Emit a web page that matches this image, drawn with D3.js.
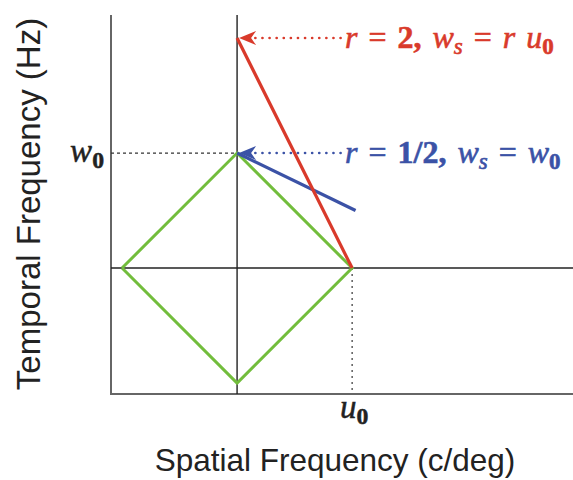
<!DOCTYPE html>
<html>
<head>
<meta charset="utf-8">
<script src="https://cdn.jsdelivr.net/npm/d3@7"></script>
<style>
  body { margin: 0; background: #fff; }
  svg { display: block; }
</style>
</head>
<body>
<svg id="chart" width="573" height="480"></svg>
<script>
// data, in units of u0 (x) and w0 (y)
var diamondU = [-1, 0, 1, 0, -1];
var diamondW = [0, 1, 0, -1, 0];
var redU = [1, 0];
var redW = [0, 2];
var blueU = [0, 1.03];
var blueW = [1, 0.5];
var arrowY = [2, 1];          // red, blue annotation rows
var arrowStartU = [0.9, 0.9];

var width = 573, height = 480;
var x = d3.scaleLinear().domain([-1.096, 2.92]).range([111, 573]);
var y = d3.scaleLinear().domain([-1.095, 2.2]).range([394, 15]);

var svg = d3.select('#chart');
var red = '#d93a2b', blue = '#3b52a6', green = '#72bd3c';

// frame (left and bottom axes)
svg.append('line').attr('x1', x(-1.096)).attr('x2', x(-1.096)).attr('y1', y(2.2)).attr('y2', y(-1.095))
  .attr('stroke', '#666').attr('stroke-width', 2);
svg.append('line').attr('x1', x(-1.096) - 1).attr('x2', x(2.92)).attr('y1', y(-1.095)).attr('y2', y(-1.095))
  .attr('stroke', '#666').attr('stroke-width', 2);

// zero lines
svg.append('line').attr('x1', x(0)).attr('x2', x(0)).attr('y1', y(2.2)).attr('y2', y(-1.095))
  .attr('stroke', '#222').attr('stroke-width', 1.4);
svg.append('line').attr('x1', x(-1.096)).attr('x2', x(2.92)).attr('y1', y(0)).attr('y2', y(0))
  .attr('stroke', '#222').attr('stroke-width', 1.4);

// reference dashed lines
svg.append('line').attr('x1', x(-1.096)).attr('x2', x(0)).attr('y1', y(1)).attr('y2', y(1))
  .attr('stroke', '#333').attr('stroke-width', 1.2).attr('stroke-dasharray', '3,3');
svg.append('line').attr('x1', x(1)).attr('x2', x(1)).attr('y1', y(0)).attr('y2', y(-1.095))
  .attr('stroke', '#333').attr('stroke-width', 1.2).attr('stroke-dasharray', '2,4');

var line = d3.line().x(function(d) { return x(d[0]); }).y(function(d) { return y(d[1]); });

svg.append('path').datum(d3.zip(diamondU, diamondW)).attr('d', line)
  .attr('fill', 'none').attr('stroke', green).attr('stroke-width', 3);
svg.append('path').datum(d3.zip(blueU, blueW)).attr('d', line)
  .attr('fill', 'none').attr('stroke', blue).attr('stroke-width', 3.2);
svg.append('path').datum(d3.zip(redU, redW)).attr('d', line)
  .attr('fill', 'none').attr('stroke', red).attr('stroke-width', 3.2);

// annotation arrows
[red, blue].forEach(function(c, i) {
  var yy = y(arrowY[i]), x0 = x(0) + 2;
  svg.append('line').attr('x1', x(arrowStartU[i])).attr('x2', x0 + 16).attr('y1', yy).attr('y2', yy)
    .attr('stroke', c).attr('stroke-width', 2.6).attr('stroke-dasharray', '0.1,7').attr('stroke-linecap', 'round');
  svg.append('path')
    .attr('d', 'M' + x0 + ',' + yy + 'L' + (x0 + 17) + ',' + (yy - 7) + 'L' + (x0 + 12) + ',' + yy + 'L' + (x0 + 17) + ',' + (yy + 7) + 'Z')
    .attr('fill', c);
});

// math labels
function mathText(g, parts) {
  parts.forEach(function(p) {
    var t = g.append('tspan').text(p.t);
    if (p.i) t.attr('font-style', 'italic');
    if (p.b) t.attr('font-weight', 'bold');
    if (p.sub) t.attr('font-size', '0.72em').attr('dy', '0.25em');
    if (p.up) t.attr('dy', '-0.18em');
  });
}
var serif = '"Liberation Serif", "DejaVu Serif", serif';

var t1 = svg.append('text').attr('x', 345).attr('y', y(2) + 10).attr('fill', red)
  .attr('stroke', red).attr('stroke-width', 0.6)
  .attr('font-family', serif).attr('font-size', 32).attr('word-spacing', 3);
mathText(t1, [{t: 'r', i: 1}, {t: ' = '}, {t: '2, ', b: 1}, {t: 'w', i: 1}, {t: 's', i: 1, sub: 1}, {t: ' = ', up: 1}, {t: 'r u', i: 1}, {t: '0', b: 1, sub: 1}]);

var t2 = svg.append('text').attr('x', 345).attr('y', y(1) + 10).attr('fill', blue)
  .attr('stroke', blue).attr('stroke-width', 0.6)
  .attr('font-family', serif).attr('font-size', 32).attr('word-spacing', 3);
mathText(t2, [{t: 'r', i: 1}, {t: ' = '}, {t: '1/2, ', b: 1}, {t: 'w', i: 1}, {t: 's', i: 1, sub: 1}, {t: ' = ', up: 1}, {t: 'w', i: 1}, {t: '0', b: 1, sub: 1}]);

var t3 = svg.append('text').attr('x', 104).attr('y', y(1) + 9).attr('text-anchor', 'end').attr('fill', '#222')
  .attr('stroke', '#222').attr('stroke-width', 0.5)
  .attr('font-family', serif).attr('font-size', 33);
mathText(t3, [{t: 'w', i: 1}, {t: '0', b: 1, sub: 1}]);

var t4 = svg.append('text').attr('x', x(1) + 2).attr('y', 418).attr('text-anchor', 'middle').attr('fill', '#222')
  .attr('stroke', '#222').attr('stroke-width', 0.5)
  .attr('font-family', serif).attr('font-size', 33);
mathText(t4, [{t: 'u', i: 1}, {t: '0', b: 1, sub: 1}]);

// axis titles
var sans = '"Liberation Sans", Arial, sans-serif';
svg.append('text').attr('x', 335).attr('y', 471).attr('text-anchor', 'middle').attr('fill', '#222')
  .attr('font-family', sans).attr('font-size', 31.5).text('Spatial Frequency (c/deg)');
svg.append('text').attr('transform', 'translate(40,' + 204 + ')rotate(-90)').attr('text-anchor', 'middle').attr('fill', '#222')
  .attr('font-family', sans).attr('font-size', 33).text('Temporal Frequency (Hz)');
</script>
</body>
</html>
